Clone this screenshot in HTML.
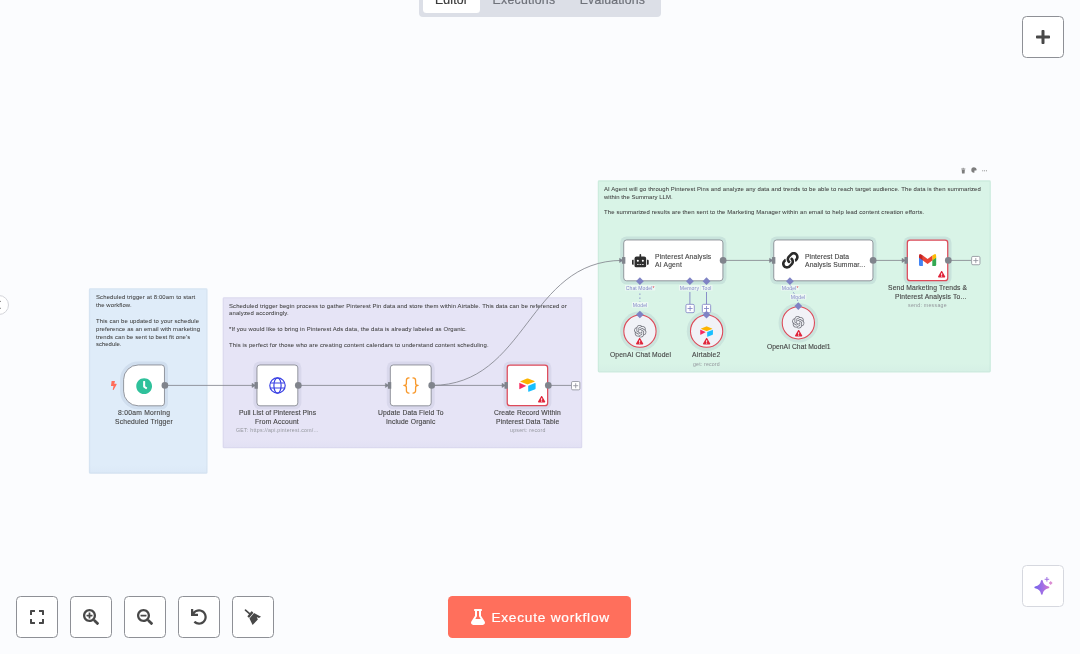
<!DOCTYPE html>
<html lang="en"><head><meta charset="utf-8"><title>n8n workflow</title>
<style>
html,body{margin:0;padding:0}
body{width:1080px;height:654px;overflow:hidden;background:#fbfcfe;position:relative;font-family:"Liberation Sans",sans-serif}
.t{position:absolute;white-space:nowrap;margin:0;padding:0}
.a{position:absolute;box-sizing:border-box}
svg{position:absolute;overflow:visible}
#app{position:absolute;left:0;top:0;width:1080px;height:654px;overflow:hidden;will-change:transform;-webkit-font-smoothing:antialiased}

.btn{position:absolute;box-sizing:border-box;width:42px;height:42px;border:1px solid #8e9096;border-radius:4.5px;background:#fff}

</style></head><body><div id="app">
<svg width="1080" height="654" viewBox="0 0 1080 654" style="left:0;top:0"><defs><linearGradient id="sgr" x1="0" y1="0" x2="0" y2="1"><stop offset="0" stop-color="#5060a0" stop-opacity="0"/><stop offset="1" stop-color="#5060a0" stop-opacity="0.09"/></linearGradient></defs><rect x="89.50" y="288.90" width="117.40" height="184.30" rx="0.8" fill="#dfecf9" stroke="#d6e4f2" stroke-width="1.3"/><rect x="89.5" y="464.60" width="117.40" height="8.6" fill="url(#sgr)" opacity="0.28"/><rect x="223.30" y="297.80" width="358.30" height="149.90" rx="0.8" fill="#e6e4f6" stroke="#dddbf0" stroke-width="1.3"/><rect x="223.3" y="439.10" width="358.30" height="8.6" fill="url(#sgr)" opacity="0.28"/><rect x="598.40" y="181.00" width="391.80" height="190.80" rx="0.8" fill="#d9f4e7" stroke="#cdecde" stroke-width="1.3"/><rect x="598.4" y="363.20" width="391.80" height="8.6" fill="url(#sgr)" opacity="0.28"/></svg>
<div class="t" style="left:95.90px;top:293.00px;font-size:23.80px;line-height:27px;letter-spacing:0.534px;color:#404040;transform:scale(0.25);transform-origin:0 0;-webkit-text-stroke:0.16px #404040;">Scheduled trigger at 8:00am to start</div>
<div class="t" style="left:95.90px;top:301.00px;font-size:23.80px;line-height:27px;letter-spacing:0.402px;color:#404040;transform:scale(0.25);transform-origin:0 0;-webkit-text-stroke:0.16px #404040;">the workflow.</div>
<div class="t" style="left:95.90px;top:317.00px;font-size:23.80px;line-height:27px;letter-spacing:0.430px;color:#404040;transform:scale(0.25);transform-origin:0 0;-webkit-text-stroke:0.16px #404040;">This can be updated to your schedule</div>
<div class="t" style="left:95.90px;top:325.00px;font-size:23.80px;line-height:27px;letter-spacing:0.385px;color:#404040;transform:scale(0.25);transform-origin:0 0;-webkit-text-stroke:0.16px #404040;">preference as an email with marketing</div>
<div class="t" style="left:95.90px;top:333.00px;font-size:23.80px;line-height:27px;letter-spacing:0.431px;color:#404040;transform:scale(0.25);transform-origin:0 0;-webkit-text-stroke:0.16px #404040;">trends can be sent to best fit one’s</div>
<div class="t" style="left:95.90px;top:340.00px;font-size:23.80px;line-height:27px;letter-spacing:0.013px;color:#404040;transform:scale(0.25);transform-origin:0 0;-webkit-text-stroke:0.16px #404040;">schedule.</div>
<div class="t" style="left:229.00px;top:302.00px;font-size:23.80px;line-height:27px;letter-spacing:0.483px;color:#404040;transform:scale(0.25);transform-origin:0 0;-webkit-text-stroke:0.16px #404040;">Scheduled trigger begin process to gather Pinterest Pin data and store them within Airtable. This data can be referenced or</div>
<div class="t" style="left:229.00px;top:309.00px;font-size:23.80px;line-height:27px;letter-spacing:0.576px;color:#404040;transform:scale(0.25);transform-origin:0 0;-webkit-text-stroke:0.16px #404040;">analyzed accordingly.</div>
<div class="t" style="left:229.00px;top:325.00px;font-size:23.80px;line-height:27px;letter-spacing:0.474px;color:#404040;transform:scale(0.25);transform-origin:0 0;-webkit-text-stroke:0.16px #404040;">*If you would like to bring in Pinterest Ads data, the data is already labeled as Organic.</div>
<div class="t" style="left:229.00px;top:341.00px;font-size:23.80px;line-height:27px;letter-spacing:0.540px;color:#404040;transform:scale(0.25);transform-origin:0 0;-webkit-text-stroke:0.16px #404040;">This is perfect for those who are creating content calendars to understand content scheduling.</div>
<div class="t" style="left:604.00px;top:185.00px;font-size:23.80px;line-height:27px;letter-spacing:0.426px;color:#404040;transform:scale(0.25);transform-origin:0 0;-webkit-text-stroke:0.16px #404040;">AI Agent will go through Pinterest Pins and analyze any data and trends to be able to reach target audience. The data is then summarized</div>
<div class="t" style="left:604.00px;top:193.00px;font-size:23.80px;line-height:27px;letter-spacing:0.274px;color:#404040;transform:scale(0.25);transform-origin:0 0;-webkit-text-stroke:0.16px #404040;">within the Summary LLM.</div>
<div class="t" style="left:604.00px;top:208.00px;font-size:23.80px;line-height:27px;letter-spacing:0.477px;color:#404040;transform:scale(0.25);transform-origin:0 0;-webkit-text-stroke:0.16px #404040;">The summarized results are then sent to the Marketing Manager within an email to help lead content creation efforts.</div>
<svg width="1080" height="654" viewBox="0 0 1080 654" style="left:0;top:0"><g fill="none" stroke="#83868e" stroke-width="0.84"><path d="M164.9,385.4 L255,385.4"/><path d="M298.3,385.4 L388.4,385.4"/><path d="M431.7,385.4 L505,385.4"/><path d="M431.7,385.4 C527.5,385.4 527.5,260.4 622.5,260.4"/><path d="M723.1,260.4 L771.6,260.4"/><path d="M873.1,260.4 L905,260.4"/><path d="M548.3,385.4 L571.5,385.4"/><path d="M948.3,260.4 L971.5,260.4"/></g><path d="M252.00,383.30 L255.40,385.40 L252.00,387.50 Z" fill="#80848c" stroke="#80848c" stroke-width="0.5" stroke-linejoin="round"/><path d="M385.40,383.30 L388.80,385.40 L385.40,387.50 Z" fill="#80848c" stroke="#80848c" stroke-width="0.5" stroke-linejoin="round"/><path d="M502.00,383.30 L505.40,385.40 L502.00,387.50 Z" fill="#80848c" stroke="#80848c" stroke-width="0.5" stroke-linejoin="round"/><path d="M619.50,258.30 L622.90,260.40 L619.50,262.50 Z" fill="#80848c" stroke="#80848c" stroke-width="0.5" stroke-linejoin="round"/><path d="M769.50,258.30 L772.90,260.40 L769.50,262.50 Z" fill="#80848c" stroke="#80848c" stroke-width="0.5" stroke-linejoin="round"/><path d="M902.00,258.30 L905.40,260.40 L902.00,262.50 Z" fill="#80848c" stroke="#80848c" stroke-width="0.5" stroke-linejoin="round"/><g fill="none" stroke="#7f83c4" stroke-width="0.9"><path d="M639.9,293.5 L639.9,302" stroke-dasharray="1.4 2.6"/><path d="M689.9,292 L689.9,305"/><path d="M706.5,292 L706.5,305"/><path d="M789.9,281 C789.9,293 798.3,294 798.3,306" stroke-dasharray="1.6 2.4"/></g></svg>
<svg width="1080" height="654" viewBox="0 0 1080 654" style="left:0;top:0"><path d="M138.20,361.42 H161.54 A6.46,6.46 0 0 1 168.00,367.88 V402.89 A6.46,6.46 0 0 1 161.54,409.35 H138.20 A18.13,18.13 0 0 1 120.07,391.22 V379.55 A18.13,18.13 0 0 1 138.20,361.42 Z" fill="rgba(41,64,112,0.08)"/><path d="M138.20,364.97 H161.54 A2.92,2.92 0 0 1 164.46,367.88 V402.89 A2.92,2.92 0 0 1 161.54,405.81 H138.20 A14.59,14.59 0 0 1 123.62,391.22 V379.55 A14.59,14.59 0 0 1 138.20,364.97 Z" fill="#fff" stroke="#80848c" stroke-width="0.83"/><rect x="253.43" y="361.42" width="47.93" height="47.93" rx="6.46" fill="rgba(41,64,112,0.068)"/><rect x="256.98" y="364.97" width="40.84" height="40.84" rx="2.92" fill="#fff" stroke="#80848c" stroke-width="0.83"/><rect x="386.79" y="361.42" width="47.93" height="47.93" rx="6.46" fill="rgba(41,64,112,0.068)"/><rect x="390.34" y="364.97" width="40.84" height="40.84" rx="2.92" fill="#fff" stroke="#80848c" stroke-width="0.83"/><rect x="503.48" y="361.42" width="47.93" height="47.93" rx="6.46" fill="rgba(41,64,112,0.068)"/><rect x="507.24" y="365.18" width="40.42" height="40.42" rx="2.71" fill="#fff" stroke="#de4a59" stroke-width="1.25"/><rect x="620.17" y="236.42" width="106.27" height="47.93" rx="6.46" fill="rgba(41,64,112,0.095)"/><rect x="623.72" y="239.97" width="99.19" height="40.84" rx="2.92" fill="#fff" stroke="#80848c" stroke-width="0.83"/><rect x="770.20" y="236.42" width="106.27" height="47.93" rx="6.46" fill="rgba(41,64,112,0.095)"/><rect x="773.75" y="239.97" width="99.19" height="40.84" rx="2.92" fill="#fff" stroke="#80848c" stroke-width="0.83"/><rect x="903.56" y="236.42" width="47.93" height="47.93" rx="6.46" fill="rgba(41,64,112,0.095)"/><rect x="907.32" y="240.18" width="40.42" height="40.42" rx="2.71" fill="#fff" stroke="#de4a59" stroke-width="1.25"/><circle cx="639.95" cy="331.15" r="19.80" fill="rgba(41,64,112,0.088)"/><circle cx="639.95" cy="331.15" r="16.13" fill="#f1f2f7" stroke="#de4a59" stroke-width="1.08"/><circle cx="706.6" cy="331.15" r="19.80" fill="rgba(41,64,112,0.088)"/><circle cx="706.6" cy="331.15" r="16.13" fill="#f1f2f7" stroke="#de4a59" stroke-width="1.08"/><circle cx="798.35" cy="322.8" r="19.80" fill="rgba(41,64,112,0.088)"/><circle cx="798.35" cy="322.8" r="16.13" fill="#f1f2f7" stroke="#de4a59" stroke-width="1.08"/><circle cx="164.9" cy="385.4" r="3.33" fill="#80848c"/><circle cx="298.3" cy="385.4" r="3.33" fill="#80848c"/><circle cx="431.7" cy="385.4" r="3.33" fill="#80848c"/><circle cx="548.3" cy="385.4" r="3.33" fill="#80848c"/><circle cx="723.1" cy="260.4" r="3.33" fill="#80848c"/><circle cx="873.1" cy="260.4" r="3.33" fill="#80848c"/><circle cx="948.3" cy="260.4" r="3.33" fill="#80848c"/><rect x="254.52" y="382.07" width="3.33" height="6.67" fill="#80848c"/><rect x="387.92" y="382.07" width="3.33" height="6.67" fill="#80848c"/><rect x="504.52" y="382.07" width="3.33" height="6.67" fill="#80848c"/><rect x="622.02" y="257.07" width="3.33" height="6.67" fill="#80848c"/><rect x="772.02" y="257.07" width="3.33" height="6.67" fill="#80848c"/><rect x="904.52" y="257.07" width="3.33" height="6.67" fill="#80848c"/><rect x="571.53" y="381.53" width="8.33" height="8.33" rx="1.25" fill="#fff" stroke="#8d9099" stroke-width="0.83"/><path d="M573.20,385.70 H578.20 M575.70,383.20 V388.20" stroke="#8d9099" stroke-width="0.83" fill="none"/><rect x="971.63" y="256.43" width="8.33" height="8.33" rx="1.25" fill="#fff" stroke="#8d9099" stroke-width="0.83"/><path d="M973.30,260.60 H978.30 M975.80,258.10 V263.10" stroke="#8d9099" stroke-width="0.83" fill="none"/><rect x="685.93" y="304.33" width="8.33" height="8.33" rx="1.25" fill="#fff" stroke="#7f83c4" stroke-width="0.83"/><path d="M687.60,308.50 H692.60 M690.10,306.00 V311.00" stroke="#7f83c4" stroke-width="0.83" fill="none"/><rect x="702.33" y="304.33" width="8.33" height="8.33" rx="1.25" fill="#fff" stroke="#7f83c4" stroke-width="0.83"/><path d="M704.00,308.50 H709.00 M706.50,306.00 V311.00" stroke="#7f83c4" stroke-width="0.83" fill="none"/><path d="M636.05,281.20 L639.90,277.35 L643.75,281.20 L639.90,285.05 Z" fill="#7f83c4"/><path d="M686.05,281.20 L689.90,277.35 L693.75,281.20 L689.90,285.05 Z" fill="#7f83c4"/><path d="M702.65,281.20 L706.50,277.35 L710.35,281.20 L706.50,285.05 Z" fill="#7f83c4"/><path d="M786.05,281.20 L789.90,277.35 L793.75,281.20 L789.90,285.05 Z" fill="#7f83c4"/><path d="M636.05,314.50 L639.90,310.65 L643.75,314.50 L639.90,318.35 Z" fill="#7f83c4"/><path d="M702.65,314.70 L706.50,310.85 L710.35,314.70 L706.50,318.55 Z" fill="#7f83c4"/><path d="M794.45,306.10 L798.30,302.25 L802.15,306.10 L798.30,309.95 Z" fill="#7f83c4"/></svg>
<div class="t" style="left:624.50px;top:285.00px;font-size:20.40px;line-height:22px;letter-spacing:0.208px;color:#8589c8;background:rgba(251,252,254,0.55);padding:0 3.2px;transform:scale(0.25);transform-origin:0 0">Chat Model<span style="color:#de4a59">*</span></div>
<div class="t" style="left:679.23px;top:285.00px;font-size:20.40px;line-height:22px;letter-spacing:0.614px;color:#8589c8;background:rgba(251,252,254,0.55);padding:0 3.2px;transform:scale(0.25);transform-origin:0 0">Memory</div>
<div class="t" style="left:700.99px;top:285.00px;font-size:20.40px;line-height:22px;letter-spacing:0.468px;color:#8589c8;background:rgba(251,252,254,0.55);padding:0 3.2px;transform:scale(0.25);transform-origin:0 0">Tool</div>
<div class="t" style="left:631.81px;top:302.00px;font-size:20.40px;line-height:22px;letter-spacing:0.556px;color:#8589c8;background:rgba(251,252,254,0.55);padding:0 3.2px;transform:scale(0.25);transform-origin:0 0">Model</div>
<div class="t" style="left:780.51px;top:285.00px;font-size:20.40px;line-height:22px;letter-spacing:0.556px;color:#8589c8;background:rgba(251,252,254,0.55);padding:0 3.2px;transform:scale(0.25);transform-origin:0 0">Model<span style="color:#de4a59">*</span></div>
<div class="t" style="left:790.31px;top:294.00px;font-size:20.40px;line-height:22px;letter-spacing:0.556px;color:#8589c8;background:rgba(251,252,254,0.55);padding:0 3.2px;transform:scale(0.25);transform-origin:0 0">Model</div>
<div class="t" style="left:117.85px;top:408.50px;font-size:27.00px;line-height:30px;letter-spacing:1.007px;color:#464646;transform:scale(0.25);transform-origin:0 0;-webkit-text-stroke:0.48px #464646;">8:00am Morning</div>
<div class="t" style="left:115.05px;top:417.50px;font-size:27.00px;line-height:30px;letter-spacing:0.733px;color:#464646;transform:scale(0.25);transform-origin:0 0;-webkit-text-stroke:0.48px #464646;">Scheduled Trigger</div>
<div class="t" style="left:238.85px;top:408.50px;font-size:27.00px;line-height:30px;letter-spacing:0.362px;color:#464646;transform:scale(0.25);transform-origin:0 0;-webkit-text-stroke:0.48px #464646;">Pull List of Pinterest Pins</div>
<div class="t" style="left:255.45px;top:417.50px;font-size:27.00px;line-height:30px;letter-spacing:0.753px;color:#464646;transform:scale(0.25);transform-origin:0 0;-webkit-text-stroke:0.48px #464646;">From Account</div>
<div class="t" style="left:236.10px;top:426.75px;font-size:20.80px;line-height:23px;letter-spacing:1.013px;color:#93969c;transform:scale(0.25);transform-origin:0 0;">GET: https://api.pinterest.com/...</div>
<div class="t" style="left:378.15px;top:408.50px;font-size:27.00px;line-height:30px;letter-spacing:0.442px;color:#464646;transform:scale(0.25);transform-origin:0 0;-webkit-text-stroke:0.48px #464646;">Update Data Field To</div>
<div class="t" style="left:386.20px;top:417.50px;font-size:27.00px;line-height:30px;letter-spacing:0.566px;color:#464646;transform:scale(0.25);transform-origin:0 0;-webkit-text-stroke:0.48px #464646;">Include Organic</div>
<div class="t" style="left:494.10px;top:408.50px;font-size:27.00px;line-height:30px;letter-spacing:0.455px;color:#464646;transform:scale(0.25);transform-origin:0 0;-webkit-text-stroke:0.48px #464646;">Create Record Within</div>
<div class="t" style="left:495.85px;top:417.50px;font-size:27.00px;line-height:30px;letter-spacing:0.528px;color:#464646;transform:scale(0.25);transform-origin:0 0;-webkit-text-stroke:0.48px #464646;">Pinterest Data Table</div>
<div class="t" style="left:509.90px;top:426.75px;font-size:20.80px;line-height:23px;letter-spacing:1.005px;color:#93969c;transform:scale(0.25);transform-origin:0 0;">upsert: record</div>
<div class="t" style="left:887.90px;top:283.50px;font-size:27.00px;line-height:30px;letter-spacing:0.528px;color:#464646;transform:scale(0.25);transform-origin:0 0;-webkit-text-stroke:0.48px #464646;">Send Marketing Trends &amp;</div>
<div class="t" style="left:894.65px;top:292.50px;font-size:27.00px;line-height:30px;letter-spacing:0.619px;color:#464646;transform:scale(0.25);transform-origin:0 0;-webkit-text-stroke:0.48px #464646;">Pinterest Analysis To...</div>
<div class="t" style="left:908.05px;top:301.75px;font-size:20.80px;line-height:23px;letter-spacing:1.118px;color:#93969c;transform:scale(0.25);transform-origin:0 0;">send: message</div>
<div class="t" style="left:610.00px;top:350.50px;font-size:27.00px;line-height:30px;letter-spacing:0.404px;color:#464646;transform:scale(0.25);transform-origin:0 0;-webkit-text-stroke:0.48px #464646;">OpenAI Chat Model</div>
<div class="t" style="left:692.35px;top:350.50px;font-size:27.00px;line-height:30px;letter-spacing:0.826px;color:#464646;transform:scale(0.25);transform-origin:0 0;-webkit-text-stroke:0.48px #464646;">Airtable2</div>
<div class="t" style="left:693.18px;top:360.75px;font-size:20.80px;line-height:23px;letter-spacing:0.723px;color:#93969c;transform:scale(0.25);transform-origin:0 0;">get: record</div>
<div class="t" style="left:766.65px;top:342.50px;font-size:27.00px;line-height:30px;letter-spacing:0.103px;color:#464646;transform:scale(0.25);transform-origin:0 0;-webkit-text-stroke:0.48px #464646;">OpenAI Chat Model1</div>
<div class="t" style="left:654.90px;top:252.50px;font-size:27.00px;line-height:30px;letter-spacing:0.694px;color:#464646;transform:scale(0.25);transform-origin:0 0;-webkit-text-stroke:0.48px #464646;">Pinterest Analysis</div>
<div class="t" style="left:654.90px;top:260.50px;font-size:27.00px;line-height:30px;letter-spacing:0.766px;color:#464646;transform:scale(0.25);transform-origin:0 0;-webkit-text-stroke:0.48px #464646;">AI Agent</div>
<div class="t" style="left:804.90px;top:252.50px;font-size:27.00px;line-height:30px;letter-spacing:0.380px;color:#464646;transform:scale(0.25);transform-origin:0 0;-webkit-text-stroke:0.48px #464646;">Pinterest Data</div>
<div class="t" style="left:804.90px;top:260.50px;font-size:27.00px;line-height:30px;letter-spacing:0.585px;color:#464646;transform:scale(0.25);transform-origin:0 0;-webkit-text-stroke:0.48px #464646;">Analysis Summar...</div>
<svg style="left:135.70px;top:377.50px" width="16.30" height="16.30" viewBox="0 0 512 512" ><path id="fa-clock" fill="#2fc19b" d="M256,8C119,8,8,119,8,256S119,504,256,504,504,393,504,256,393,8,256,8Zm92.49,313h0l-20,25a16,16,0,0,1-22.49,2.5h0l-67-49.72a40,40,0,0,1-15-31.23V112a16,16,0,0,1,16-16h32a16,16,0,0,1,16,16V256l58,42.5A16,16,0,0,1,348.49,321Z"/></svg>
<svg style="left:110.90px;top:380.70px" width="5.70" height="9.10" viewBox="0 0 320 512" ><path id="fa-bolt" fill="#ff6d5a" d="M296 160H180.600l42.600-129.800C227.200 15 215.700 0 200 0H56C44 0 33.800 8.900 32.200 20.800l-32 240C-1.700 275.200 9.500 288 24 288h118.700L96.600 482.500c-3.600 15.200 8 29.500 23.300 29.500 8.400 0 16.400-4.400 20.800-12l176-304c9.300-15.900-2.200-36-20.700-36z"/></svg>
<svg style="left:269.00px;top:376.90px" width="17.00" height="17.00" viewBox="-8.5 -8.5 17 17" ><g fill="none" stroke="#3a41e4" stroke-width="1.2"><circle r="7.7"/><ellipse rx="3.6" ry="7.7"/><path d="M-7.3,-2.5 H7.3 M-7.3,2.5 H7.3"/></g></svg>
<svg style="left:402.90px;top:377.10px" width="16.00" height="17.00" viewBox="0 0 16 17" ><g fill="none" stroke="#f8992b" stroke-width="1.3" stroke-linecap="round" stroke-linejoin="round"><path d="M6.0,0.9 C3.6,0.9 3.4,1.8 3.4,3.4 V6.2 C3.4,7.6 2.6,8.4 0.9,8.4 C2.6,8.4 3.4,9.2 3.4,10.6 V13.6 C3.4,15.2 3.6,16.1 6.0,16.1"/><path d="M10.0,0.9 C12.4,0.9 12.6,1.8 12.6,3.4 V6.2 C12.6,7.6 13.4,8.4 15.1,8.4 C13.4,8.4 12.6,9.2 12.6,10.6 V13.6 C12.6,15.2 12.4,16.1 10.0,16.1"/></g></svg>
<svg style="left:519.00px;top:378.20px" width="17.00" height="14.00" viewBox="0 0 17 14" ><path d="M1.5,3.2 L8.0,0.5 Q8.5,0.3 9.0,0.5 L15.4,3.1 Q16,3.4 15.4,3.7 L9.0,6.3 Q8.5,6.5 8.0,6.3 L1.5,3.8 Q1.0,3.5 1.5,3.2Z" fill="#fcb400"/><path d="M9.3,7.7 L16.0,5.0 Q16.6,4.8 16.6,5.4 L16.6,10.6 Q16.6,11 16.2,11.2 L9.7,13.7 Q9.2,13.9 9.2,13.3 L9.2,8.1 Q9.2,7.8 9.3,7.7Z" fill="#18bfff"/><path d="M0.3,5.2 L0.3,10.8 Q0.3,11.4 0.9,11.1 L7.0,8.1 Q7.3,7.9 7.0,7.7 L0.8,4.9 Q0.3,4.7 0.3,5.2Z" fill="#f82b60"/></svg>
<svg style="left:699.70px;top:325.70px" width="13.26" height="10.92" viewBox="0 0 17 14" ><path d="M1.5,3.2 L8.0,0.5 Q8.5,0.3 9.0,0.5 L15.4,3.1 Q16,3.4 15.4,3.7 L9.0,6.3 Q8.5,6.5 8.0,6.3 L1.5,3.8 Q1.0,3.5 1.5,3.2Z" fill="#fcb400"/><path d="M9.3,7.7 L16.0,5.0 Q16.6,4.8 16.6,5.4 L16.6,10.6 Q16.6,11 16.2,11.2 L9.7,13.7 Q9.2,13.9 9.2,13.3 L9.2,8.1 Q9.2,7.8 9.3,7.7Z" fill="#18bfff"/><path d="M0.3,5.2 L0.3,10.8 Q0.3,11.4 0.9,11.1 L7.0,8.1 Q7.3,7.9 7.0,7.7 L0.8,4.9 Q0.3,4.7 0.3,5.2Z" fill="#f82b60"/></svg>
<svg style="left:631.70px;top:254.00px" width="16.70" height="13.36" viewBox="0 0 640 512" ><path id="fa-robot" fill="#2e2e2e" d="M32,224H64V416H32A31.96166,31.96166,0,0,1,0,384V256A31.96166,31.96166,0,0,1,32,224Zm512-48V448a64.06328,64.06328,0,0,1-64,64H160a64.06328,64.06328,0,0,1-64-64V176a79.974,79.974,0,0,1,80-80H288V32a32,32,0,0,1,64,0V96H464A79.974,79.974,0,0,1,544,176ZM264,256a40,40,0,1,0-40,40A39.997,39.997,0,0,0,264,256Zm-8,128H192v32h64Zm96,0H288v32h64ZM456,256a40,40,0,1,0-40,40A39.997,39.997,0,0,0,456,256Zm-8,128H384v32h64ZM640,256V384a31.96166,31.96166,0,0,1-32,32H576V224h32A31.96166,31.96166,0,0,1,640,256Z"/></svg>
<svg style="left:781.70px;top:252.20px" width="16.70" height="16.70" viewBox="0 0 512 512" ><path id="fa-link" fill="#2a2a2a" d="M326.612 185.391c59.747 59.809 58.927 155.698.36 214.59-.11.12-.24.25-.36.37l-67.2 67.2c-59.27 59.27-155.699 59.262-214.96 0-59.27-59.26-59.27-155.7 0-214.96l37.106-37.106c9.84-9.84 26.786-3.3 27.294 10.606.648 17.722 3.826 35.527 9.69 52.721 1.986 5.822.567 12.262-3.783 16.612l-13.087 13.087c-28.026 28.026-28.905 73.66-1.155 101.96 28.024 28.579 74.086 28.749 102.325.51l67.2-67.19c28.191-28.191 28.073-73.757 0-101.83-3.701-3.694-7.429-6.564-10.341-8.569a16.037 16.037 0 0 1-6.947-12.606c-.396-10.567 3.348-21.456 11.698-29.806l21.054-21.055c5.521-5.521 14.182-6.199 20.584-1.731a152.482 152.482 0 0 1 20.522 17.197zM467.547 44.449c-59.261-59.262-155.69-59.27-214.96 0l-67.2 67.2c-.12.12-.25.25-.36.37-58.566 58.892-59.387 154.781.36 214.59a152.454 152.454 0 0 0 20.521 17.196c6.402 4.468 15.064 3.789 20.584-1.731l21.054-21.055c8.35-8.35 12.094-19.239 11.698-29.806a16.037 16.037 0 0 0-6.947-12.606c-2.912-2.005-6.64-4.875-10.341-8.569-28.073-28.073-28.191-73.639 0-101.83l67.2-67.19c28.239-28.239 74.3-28.069 102.325.51 27.75 28.3 26.872 73.934-1.155 101.96l-13.087 13.087c-4.35 4.35-5.769 10.79-3.783 16.612 5.864 17.194 9.042 34.999 9.69 52.721.509 13.906 17.454 20.446 27.294 10.606l37.106-37.106c59.271-59.259 59.271-155.699.001-214.959z"/></svg>
<svg style="left:919.00px;top:254.30px" width="17.20" height="12.00" viewBox="0 0 17.2 12" ><path d="M0,3.6 V10.8 Q0,12 1.2,12 H3.9 V5.6 Z" fill="#4285f4"/><path d="M17.2,3.6 V10.8 Q17.2,12 16,12 H13.3 V5.6 Z" fill="#34a853"/><path d="M13.3,1.6 L15.0,0.4 Q17.2,-0.6 17.2,1.9 V3.8 L13.3,6.6 Z" fill="#fbbc04"/><path d="M3.9,1.6 L2.2,0.4 Q0,-0.6 0,1.9 V3.8 L3.9,6.6 Z" fill="#c5221f"/><path d="M3.9,1.6 L8.6,5.1 L13.3,1.6 V6.6 L8.6,10.0 L3.9,6.6 Z" fill="#ea4335"/></svg>
<svg style="left:633.75px;top:324.65px" width="12.50" height="12.50" viewBox="0 0 24 24" ><path id="fa-openai" fill="#74757e" d="M22.2819 9.8211a5.9847 5.9847 0 0 0-.5157-4.9108 6.0462 6.0462 0 0 0-6.5098-2.9A6.0651 6.0651 0 0 0 4.9807 4.1818a5.9847 5.9847 0 0 0-3.9977 2.9 6.0462 6.0462 0 0 0 .7427 7.0966 5.98 5.98 0 0 0 .511 4.9107 6.051 6.051 0 0 0 6.5146 2.9001A5.9847 5.9847 0 0 0 13.2599 24a6.0557 6.0557 0 0 0 5.7718-4.2058 5.9894 5.9894 0 0 0 3.9977-2.9001 6.0557 6.0557 0 0 0-.7475-7.0729zm-9.022 12.6081a4.4755 4.4755 0 0 1-2.8764-1.0408l.1419-.0804 4.7783-2.7582a.7948.7948 0 0 0 .3927-.6813v-6.7369l2.02 1.1686a.071.071 0 0 1 .038.052v5.5826a4.504 4.504 0 0 1-4.4945 4.4944zm-9.6607-4.1254a4.4708 4.4708 0 0 1-.5346-3.0137l.142.0852 4.783 2.7582a.7712.7712 0 0 0 .7806 0l5.8428-3.3685v2.3324a.0804.0804 0 0 1-.0332.0615L9.74 19.9502a4.4992 4.4992 0 0 1-6.1408-1.6464zM2.3408 7.8956a4.485 4.485 0 0 1 2.3655-1.9728V11.6a.7664.7664 0 0 0 .3879.6765l5.8144 3.3543-2.0201 1.1685a.0757.0757 0 0 1-.071 0l-4.8303-2.7865A4.504 4.504 0 0 1 2.3408 7.872zm16.5963 3.8558L13.1038 8.364 15.1192 7.2a.0757.0757 0 0 1 .071 0l4.8303 2.7913a4.4944 4.4944 0 0 1-.6765 8.1042v-5.6772a.79.79 0 0 0-.407-.667zm2.0107-3.0231l-.142-.0852-4.7735-2.7818a.7759.7759 0 0 0-.7854 0L9.409 9.2297V6.8974a.0662.0662 0 0 1 .0284-.0615l4.8303-2.7866a4.4992 4.4992 0 0 1 6.6802 4.66zM8.3065 12.863l-2.02-1.1638a.0804.0804 0 0 1-.038-.0567V6.0742a4.4992 4.4992 0 0 1 7.3757-3.4537l-.142.0805L8.704 5.459a.7948.7948 0 0 0-.3927.6813zm1.0976-2.3654l2.602-1.4998 2.6069 1.4998v2.9994l-2.5974 1.4997-2.6067-1.4997Z"/></svg>
<svg style="left:792.15px;top:316.25px" width="12.50" height="12.50" viewBox="0 0 24 24" ><use href="#fa-openai" fill="#74757e"/></svg>
<svg style="left:537.75px;top:396.20px" width="7.30" height="6.50" viewBox="0 0 576 512" ><path id="fa-warnbg" d="M288 150 L330 440 L246 440Z M288 340 a60 60 0 1 0 0.1 0Z" fill="#fff"/><path id="fa-warn" fill="#e0243a" d="M569.517 440.013C587.975 472.007 564.806 512 527.940 512H48.054c-36.937 0-59.999-40.055-41.577-71.987L246.423 23.985c18.467-32.009 64.720-31.951 83.154 0l239.940 416.028zM288 354c-25.405 0-46 20.595-46 46s20.595 46 46 46 46-20.595 46-46-20.595-46-46-46zm-43.673-165.346l7.418 136c.347 6.364 5.609 11.346 11.982 11.346h48.546c6.373 0 11.635-4.982 11.982-11.346l7.418-136c.375-6.874-5.098-12.654-11.982-12.654h-63.383c-6.884 0-12.356 5.780-11.981 12.654z"/></svg>
<svg style="left:937.75px;top:271.30px" width="7.30" height="6.50" viewBox="0 0 576 512" ><use href="#fa-warnbg"/><use href="#fa-warn" fill="#e0243a"/></svg>
<svg style="left:636.30px;top:338.20px" width="7.30" height="6.50" viewBox="0 0 576 512" ><use href="#fa-warnbg"/><use href="#fa-warn" fill="#e0243a"/></svg>
<svg style="left:702.90px;top:338.20px" width="7.30" height="6.50" viewBox="0 0 576 512" ><use href="#fa-warnbg"/><use href="#fa-warn" fill="#e0243a"/></svg>
<svg style="left:794.80px;top:330.00px" width="7.30" height="6.50" viewBox="0 0 576 512" ><use href="#fa-warnbg"/><use href="#fa-warn" fill="#e0243a"/></svg>
<svg style="left:960.60px;top:167.60px" width="4.60" height="5.60" viewBox="0 0 4.6 5.6" ><path d="M0.2,0.9 H4.4 M1.6,0.3 H3.0" stroke="#7d7d7d" stroke-width="0.7" fill="none"/><path d="M0.7,1.6 H3.9 L3.6,5.4 H1.0 Z" fill="#7d7d7d"/></svg>
<svg style="left:970.90px;top:167.40px" width="6.00" height="6.00" viewBox="0 0 6 6" ><path d="M3,0.3 A2.7,2.7 0 1 0 3,5.7 C3.8,5.7 3.6,4.9 3.4,4.5 C3.1,3.9 3.6,3.5 4.2,3.5 H5.0 C5.5,3.5 5.7,3.2 5.7,2.8 A2.7,2.6 0 0 0 3,0.3Z" fill="#7d7d7d"/></svg>
<svg style="left:982.00px;top:169.70px" width="5.20" height="1.40" viewBox="0 0 5.2 1.4" ><circle cx="0.7" cy="0.7" r="0.55" fill="#7d7d7d"/><circle cx="2.6" cy="0.7" r="0.55" fill="#7d7d7d"/><circle cx="4.5" cy="0.7" r="0.55" fill="#7d7d7d"/></svg>
<div class="a" style="left:419px;top:-10px;width:242px;height:26.6px;background:#dcdfe7;border-radius:4px"></div>
<div class="a" style="left:422.8px;top:-10px;width:57.6px;height:23px;background:#fff;border-radius:3.5px"></div>
<div class="t" style="left:434.90px;top:-7.00px;font-size:12.3px;line-height:14px;letter-spacing:0.178px;color:#3b3b3b;-webkit-text-stroke:0.2px #3b3b3b;">Editor</div>
<div class="t" style="left:492.50px;top:-7.00px;font-size:12.3px;line-height:14px;letter-spacing:0.273px;color:#6f727a;-webkit-text-stroke:0.2px #6f727a;">Executions</div>
<div class="t" style="left:579.75px;top:-7.00px;font-size:12.3px;line-height:14px;letter-spacing:0.146px;color:#6f727a;-webkit-text-stroke:0.2px #6f727a;">Evaluations</div>
<div class="btn" style="left:16.2px;top:596px"></div>
<div class="btn" style="left:70.2px;top:596px"></div>
<div class="btn" style="left:124.2px;top:596px"></div>
<div class="btn" style="left:178.2px;top:596px"></div>
<div class="btn" style="left:232.2px;top:596px"></div>
<div class="btn" style="left:1022.2px;top:16px"></div>
<div class="btn" style="left:1022.2px;top:565px;border-color:#d6d8df"></div>
<div class="a" style="left:448.3px;top:596.2px;width:183px;height:41.6px;background:#ff6f5c;border-radius:4.5px"></div>
<div class="t" style="left:491.40px;top:610.00px;font-size:13.7px;line-height:15px;letter-spacing:0.750px;color:#fff;-webkit-text-stroke:0.2px #fff;">Execute workflow</div>
<div class="a" style="left:-11.3px;top:294.8px;width:20.2px;height:20.2px;border-radius:50%;background:#fff;border:1px solid #d3d4d9"></div>
<svg style="left:30.00px;top:609.00px" width="14.00" height="16.00" viewBox="0 0 448 512" ><path id="fa-expand" fill="#484848" d="M0 180V56c0-13.300 10.700-24 24-24h124c6.600 0 12 5.400 12 12v40c0 6.600-5.400 12-12 12H64v84c0 6.600-5.400 12-12 12H12c-6.600 0-12-5.400-12-12zM288 44v40c0 6.600 5.400 12 12 12h84v84c0 6.600 5.400 12 12 12h40c6.600 0 12-5.400 12-12V56c0-13.300-10.700-24-24-24H300c-6.600 0-12 5.400-12 12zm148 276h-40c-6.600 0-12 5.400-12 12v84h-84c-6.600 0-12 5.400-12 12v40c0 6.600 5.400 12 12 12h124c13.300 0 24-10.700 24-24V332c0-6.600-5.400-12-12-12zM160 468v-40c0-6.600-5.400-12-12-12H64v-84c0-6.600-5.400-12-12-12H12c-6.600 0-12 5.400-12 12v124c0 13.300 10.700 24 24 24h124c6.600 0 12-5.400 12-12z"/></svg>
<svg style="left:83.00px;top:609.00px" width="16.00" height="16.00" viewBox="0 0 512 512" ><path id="fa-zoomin" fill="#484848" d="M304 192v32c0 6.600-5.400 12-12 12h-56v56c0 6.600-5.400 12-12 12h-32c-6.600 0-12-5.400-12-12v-56h-56c-6.600 0-12-5.400-12-12v-32c0-6.600 5.400-12 12-12h56v-56c0-6.600 5.400-12 12-12h32c6.600 0 12 5.400 12 12v56h56c6.600 0 12 5.400 12 12zm201 284.700L476.700 505c-9.400 9.400-24.600 9.400-33.900 0L343 405.300c-4.500-4.500-7-10.600-7-17V372c-35.300 27.600-79.700 44-128 44C93.100 416 0 322.900 0 208S93.100 0 208 0s208 93.100 208 208c0 48.300-16.400 92.700-44 128h16.300c6.400 0 12.500 2.500 17 7l99.700 99.700c9.300 9.400 9.300 24.600 0 34zM344 208c0-75.200-60.800-136-136-136S72 132.800 72 208s60.800 136 136 136 136-60.800 136-136z"/></svg>
<svg style="left:137.00px;top:609.00px" width="16.00" height="16.00" viewBox="0 0 512 512" ><path id="fa-zoomout" fill="#484848" d="M304 192v32c0 6.600-5.400 12-12 12H124c-6.600 0-12-5.400-12-12v-32c0-6.600 5.400-12 12-12h168c6.600 0 12 5.400 12 12zm201 284.700L476.700 505c-9.400 9.400-24.600 9.400-33.900 0L343 405.300c-4.500-4.500-7-10.600-7-17V372c-35.300 27.600-79.700 44-128 44C93.100 416 0 322.900 0 208S93.100 0 208 0s208 93.100 208 208c0 48.300-16.400 92.700-44 128h16.300c6.400 0 12.500 2.500 17 7l99.700 99.700c9.300 9.400 9.300 24.600 0 34zM344 208c0-75.200-60.800-136-136-136S72 132.800 72 208s60.800 136 136 136 136-60.800 136-136z"/></svg>
<svg style="left:191.10px;top:608.80px" width="16.00" height="16.00" viewBox="0 0 512 512" ><path id="fa-undo" fill="#484848" d="M212.333 224.333H12c-6.627 0-12-5.373-12-12V12C0 5.373 5.373 0 12 0h48c6.627 0 12 5.373 12 12v78.112C117.773 39.279 184.260 7.470 258.175 8.007c136.906.994 246.448 111.623 246.157 248.532C504.041 393.258 393.120 504 256.333 504c-64.089 0-122.496-24.313-166.510-64.215-5.099-4.622-5.334-12.554-.467-17.420l33.967-33.967c4.474-4.474 11.662-4.717 16.401-.525C170.760 415.336 211.580 432 256.333 432c97.268 0 176-78.716 176-176 0-97.267-78.716-176-176-176-58.496 0-110.280 28.476-142.274 72.333h98.274c6.627 0 12 5.373 12 12v48c0 6.627-5.373 12-12 12z"/></svg>
<svg style="left:236.00px;top:600.00px" width="34.00" height="34.00" viewBox="236 600 34 34" ><g transform="translate(251.47,615.47) rotate(40)" fill="#484848"><rect x="-8.8" y="-1.05" width="7.6" height="1.7" rx="0.8"/><rect x="-2.7" y="-3.4" width="2.4" height="6.8" rx="0.6"/><path d="M0.4,-3.5 L0.4,3.6 L7.0,6.6 L7.5,-1.0 L5.0,-2.3 L7.3,-2.9 L8.1,-5.2 Z"/></g></svg>
<svg style="left:1036.00px;top:29.00px" width="14.00" height="16.00" viewBox="0 0 448 512" ><path id="fa-plus" fill="#484848" d="M416 208H272V64c0-17.670-14.330-32-32-32h-32c-17.670 0-32 14.330-32 32v144H32c-17.670 0-32 14.330-32 32v32c0 17.670 14.330 32 32 32h144v144c0 17.670 14.330 32 32 32h32c17.670 0 32-14.330 32-32V304h144c17.670 0 32-14.330 32-32v-32c0-17.670-14.330-32-32-32z"/></svg>
<svg style="left:470.65px;top:609.20px" width="14.00" height="16.00" viewBox="0 0 448 512" ><path id="fa-flask" fill="#fff" d="M437.200 403.500L320 215V64h8c13.300 0 24-10.700 24-24V24c0-13.300-10.700-24-24-24H120c-13.300 0-24 10.700-24 24v16c0 13.300 10.700 24 24 24h8v151L10.800 403.500C-18.500 450.600 15.300 512 70.900 512h306.200c55.700 0 89.400-61.500 60.100-108.500zM137.900 320l48.200-77.600c3.700-5.200 5.800-11.600 5.800-18.400V64h64v160c0 6.900 2.200 13.200 5.800 18.400l48.200 77.600h-172z"/></svg>
<svg style="left:1033.50px;top:578.00px" width="18.50" height="17.50" viewBox="0 0 18.5 17.5" ><defs><linearGradient id="sg" gradientUnits="userSpaceOnUse" x1="0.5" y1="0" x2="15.5" y2="0"><stop offset="0" stop-color="#7462ea"/><stop offset="0.5" stop-color="#9d6ee6"/><stop offset="1" stop-color="#d277d0"/></linearGradient></defs><path d="M7.85,2.75 Q8.75,8.45 14.45,9.35 Q8.75,10.25 7.85,15.95 Q6.949999999999999,10.25 1.25,9.35 Q6.949999999999999,8.45 7.85,2.75Z" fill="url(#sg)" stroke="url(#sg)" stroke-width="1.7" stroke-linejoin="round"/><path d="M12.9,-1.0 V3.6 M10.6,1.3 H15.2" stroke="#9d6fe2" stroke-width="0.95" fill="none"/><path d="M16.7,3.5 Q16.9,4.8 18.2,5.0 Q16.9,5.2 16.7,6.5 Q16.5,5.2 15.2,5.0 Q16.5,4.8 16.7,3.5Z" fill="#d883cf" stroke="#d883cf" stroke-width="0.9" stroke-linejoin="round"/></svg>
<svg style="left:0.00px;top:298.00px" width="4.00" height="14.00" viewBox="0 0 4 14" ><path d="M0,3.4 H0.9 M0,10.3 H0.9" stroke="#666" stroke-width="0.9" fill="none"/></svg>
</div></body></html>
